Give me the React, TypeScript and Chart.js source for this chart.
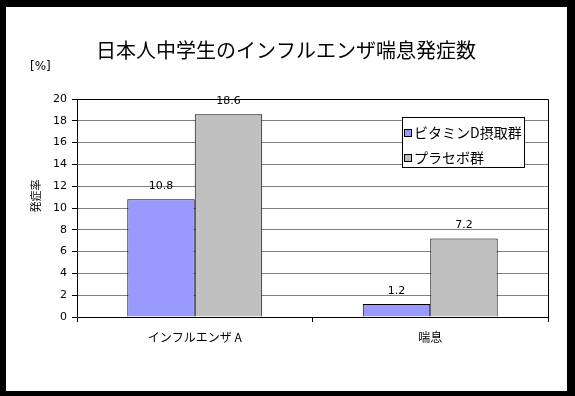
import React, { useEffect, useRef } from "react";
import { Chart, registerables } from "chart.js";

Chart.register(...registerables);

const titleText = "日本人中学生のインフルエンザ喘息発症数";
const unitText = "[%]";
const yAxisTitle = "発症率";
const categories = ["インフルエンザ A", "喘息"];
const seriesNames = ["ビタミンD摂取群", "プラセボ群"];
const vitaminD = [10.8, 1.2];
const placebo = [18.6, 7.2];
const seriesColors = ["#9999FF", "#C0C0C0"];
const yMin = 0;
const yMax = 20;
const yStep = 2;

const JP = '"Noto Sans CJK JP", "DejaVu Sans", sans-serif';
const NUM = '"DejaVu Sans", "Noto Sans CJK JP", sans-serif';

const decorPlugin = {
  id: "decor",
  beforeDraw(chart: any) {
    const { ctx, width, height } = chart;
    ctx.save();
    ctx.fillStyle = "#000";
    ctx.fillRect(0, 0, width, height);
    ctx.fillStyle = "#fff";
    ctx.fillRect(6, 7, 561, 384);
    ctx.restore();
  },
  afterDraw(chart: any) {
    const { ctx, chartArea } = chart;
    ctx.save();
    // plot border
    ctx.strokeStyle = "#000";
    ctx.lineWidth = 1;
    ctx.beginPath();
    ctx.moveTo(Math.round(chartArea.left) + 0.5, Math.round(chartArea.top) + 0.5);
    ctx.lineTo(Math.round(chartArea.right) + 0.5, Math.round(chartArea.top) + 0.5);
    ctx.lineTo(Math.round(chartArea.right) + 0.5, Math.round(chartArea.bottom) + 0.5);
    ctx.stroke();

    // title
    ctx.fillStyle = "#000";
    ctx.font = `20px ${JP}`;
    ctx.textAlign = "center";
    ctx.textBaseline = "middle";
    ctx.fillText(titleText, 286, 50);

    // unit
    ctx.font = `12px ${NUM}`;
    ctx.textAlign = "left";
    ctx.fillText(unitText, 30, 67);

    // y axis title
    ctx.save();
    ctx.translate(36, 196);
    ctx.rotate(-Math.PI / 2);
    ctx.font = `11px ${JP}`;
    ctx.textAlign = "center";
    ctx.textBaseline = "middle";
    ctx.fillText(yAxisTitle, 0, 0);
    ctx.restore();

    // data labels
    ctx.font = `11px ${NUM}`;
    ctx.textAlign = "center";
    ctx.textBaseline = "middle";
    chart.data.datasets.forEach((ds: any, i: number) => {
      const meta = chart.getDatasetMeta(i);
      meta.data.forEach((el: any, j: number) => {
        ctx.fillText(String(ds.data[j]), el.x, el.y - 13);
      });
    });

    // legend
    const lx = 402, ly = 117, lw = 122, lh = 50;
    ctx.fillStyle = "#fff";
    ctx.fillRect(lx, ly, lw, lh);
    ctx.strokeStyle = "#000";
    ctx.strokeRect(lx + 0.5, ly + 0.5, lw, lh);
    ctx.font = `14px ${JP}`;
    ctx.textAlign = "left";
    ctx.textBaseline = "middle";
    chart.data.datasets.forEach((ds: any, i: number) => {
      const cy = 133 + i * 25;
      ctx.fillStyle = ds.backgroundColor;
      ctx.fillRect(405, cy - 3, 7, 7);
      ctx.strokeStyle = "#000";
      ctx.strokeRect(404.5, cy - 3.5, 7, 7);
      ctx.fillStyle = "#000";
      ctx.fillText(ds.label, 414, cy);
    });
    ctx.restore();
  },
};

export default function App() {
  const ref = useRef<HTMLCanvasElement>(null);
  useEffect(() => {
    document.body.style.margin = "0";
    const chart = new Chart(ref.current!, {
      type: "bar",
      data: {
        labels: categories,
        datasets: [
          {
            label: seriesNames[0],
            data: vitaminD,
            backgroundColor: seriesColors[0],
            borderColor: "#000",
            borderWidth: 1,
            categoryPercentage: 0.573,
            barPercentage: 1,
          },
          {
            label: seriesNames[1],
            data: placebo,
            backgroundColor: seriesColors[1],
            borderColor: "#000",
            borderWidth: 1,
            categoryPercentage: 0.573,
            barPercentage: 1,
          },
        ],
      },
      options: {
        responsive: false,
        animation: false,
        devicePixelRatio: 1,
        layout: { padding: { top: 99, right: 27, bottom: 0, left: 0 } },
        plugins: { legend: { display: false }, tooltip: { enabled: false }, title: { display: false } },
        scales: {
          x: {
            offset: true,
            grid: { offset: true, drawOnChartArea: false, drawTicks: true, tickLength: 5, tickColor: "#000" },
            border: { color: "#000" },
            ticks: { color: "#000", font: { family: JP, size: 12 }, padding: 8 },
            afterFit: (s: any) => { s.height = 79; },
          },
          y: {
            min: yMin,
            max: yMax,
            grid: { color: "#808080", tickLength: 5, tickColor: "#000" },
            border: { color: "#000" },
            ticks: { stepSize: yStep, color: "#000", font: { family: NUM, size: 11 }, padding: 5 },
            afterFit: (s: any) => { s.width = 77; },
          },
        },
      },
      plugins: [decorPlugin],
    });
    return () => chart.destroy();
  }, []);
  return (
    <div style={{ position: "absolute", left: 0, top: 0, width: 575, height: 396 }}>
      <canvas ref={ref} width={575} height={396} />
    </div>
  );
}
